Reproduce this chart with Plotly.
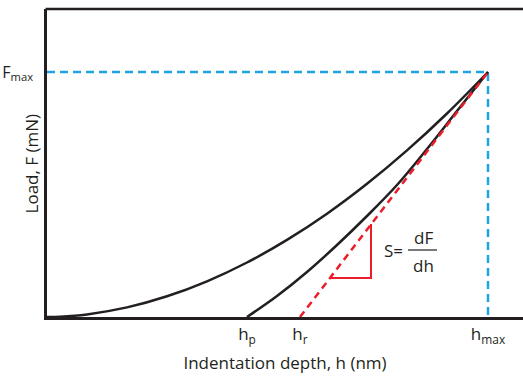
import plotly.graph_objects as go

# Data (arbitrary units)
h_max = 441
F_max = 245
h_p = 200
h_r = 253

load_h = [0, 13, 40, 80, 120, 160, 200, 240, 280, 320, 360, 400, 441]
load_F = [0, 0.3, 2.6, 9.6, 20.7, 35.7, 54.5, 77.1, 103.3, 133.2, 166.6, 203.5, 245]

unload_h = [200, 230, 260, 290, 320, 350, 380, 410, 441]
unload_F = [0, 21, 45, 72, 101, 132, 168, 206, 245]

tangent_h = [h_r, h_max]
tangent_F = [0, F_max]

tri_h = [283, 324, 324]
tri_F = [39, 39, 93]

x_tickvals = [h_p, h_r, h_max]
x_ticktext = ["h<sub>p</sub>", "h<sub>r</sub>", "h<sub>max</sub>"]
y_tickvals = [F_max]
y_ticktext = ["F<sub>max</sub>"]

BLACK = "#231f20"
BLUE = "#1ea5e0"
RED = "#ec1c2a"
FONT = "Open Sans"

fig = go.Figure()

fig.add_trace(go.Scatter(x=[0, h_max, h_max], y=[F_max, F_max, 0], mode="lines",
                         line=dict(color=BLUE, width=2.5, dash="8px,5px"), hoverinfo="skip"))
fig.add_trace(go.Scatter(x=load_h, y=load_F, mode="lines", line=dict(color=BLACK, width=2.5, shape="spline")))
fig.add_trace(go.Scatter(x=unload_h, y=unload_F, mode="lines", line=dict(color=BLACK, width=2.5, shape="spline")))
fig.add_trace(go.Scatter(x=tangent_h, y=tangent_F, mode="lines",
                         line=dict(color=RED, width=2.5, dash="7px,5px")))
fig.add_trace(go.Scatter(x=tri_h, y=tri_F, mode="lines", line=dict(color=RED, width=2)))

# fraction bar for dF/dh
fig.add_shape(type="line", x0=361, x1=390, y0=67, y1=67, line=dict(color=BLACK, width=1.2))
# top border of the frame
fig.add_shape(type="line", xref="paper", yref="paper", x0=-0.003, x1=1, y0=1, y1=1,
              line=dict(color=BLACK, width=2.5))

fig.add_annotation(x=346, y=67, text="S=", showarrow=False, font=dict(size=17, color=BLACK, family=FONT))
fig.add_annotation(x=376, y=80, text="dF", showarrow=False, font=dict(size=17, color=BLACK, family=FONT))
fig.add_annotation(x=376, y=52, text="dh", showarrow=False, font=dict(size=17, color=BLACK, family=FONT))

# y-axis title as annotation
fig.add_annotation(xref="paper", yref="paper", x=0, y=0.497, xshift=-29, textangle=-90,
                   text="Load, F (mN)", showarrow=False,
                   font=dict(size=17, color=BLACK, family=FONT))

fig.update_layout(
    width=523, height=376,
    margin=dict(l=47, r=0, t=9, b=59),
    paper_bgcolor="white", plot_bgcolor="white",
    showlegend=False,
    font=dict(family=FONT, color=BLACK, size=17),
    xaxis=dict(range=[0, 476], showgrid=False, zeroline=False, showline=True,
               linecolor=BLACK, linewidth=2.5, ticks="",
               tickvals=x_tickvals, ticktext=x_ticktext,
               tickfont=dict(size=17, family=FONT, color=BLACK),
               title=dict(text="Indentation depth, h (nm)", standoff=12,
                          font=dict(size=17, family=FONT, color=BLACK))),
    yaxis=dict(range=[0, 308], showgrid=False, zeroline=False, showline=True,
               linecolor=BLACK, linewidth=2.5, ticks="", ticklabelstandoff=8,
               tickvals=y_tickvals, ticktext=y_ticktext,
               tickfont=dict(size=16, family=FONT, color=BLACK)),
)

fig.write_html("out.html")
